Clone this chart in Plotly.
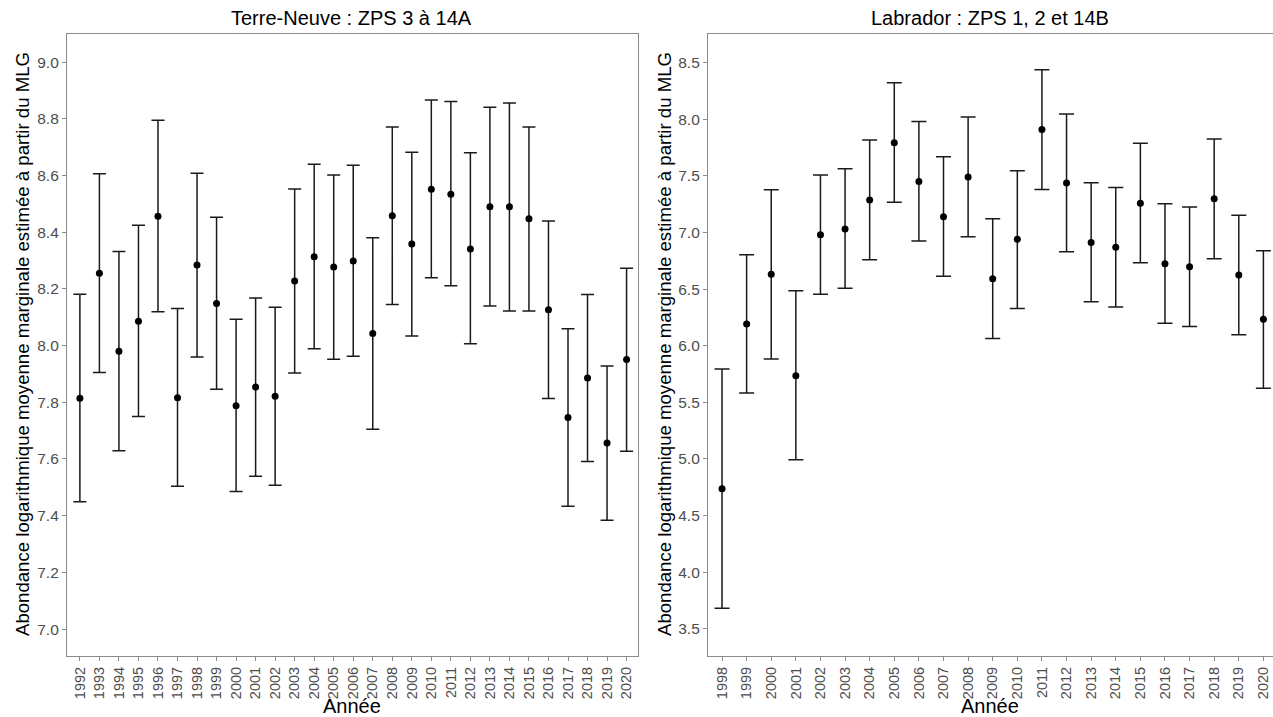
import plotly.graph_objects as go
from plotly.subplots import make_subplots

# Terre-Neuve (ZPS 3 à 14A)
tn_years = list(range(1992, 2021))
tn_mean = [7.814, 8.255, 7.980, 8.086, 8.456, 7.816, 8.284, 8.148, 7.788, 7.854,
           7.821, 8.228, 8.313, 8.277, 8.298, 8.043, 8.458, 8.358, 8.551, 8.534,
           8.341, 8.490, 8.490, 8.447, 8.126, 7.746, 7.886, 7.656, 7.951]
tn_upper = [8.181, 8.606, 8.332, 8.424, 8.795, 8.131, 8.608, 8.453, 8.093, 8.168,
            8.135, 8.552, 8.640, 8.602, 8.636, 8.380, 8.771, 8.682, 8.866, 8.861,
            8.680, 8.841, 8.856, 8.771, 8.439, 8.059, 8.180, 7.928, 8.273]
tn_lower = [7.449, 7.905, 7.629, 7.750, 8.119, 7.504, 7.960, 7.846, 7.485, 7.539,
            7.507, 7.903, 7.989, 7.952, 7.962, 7.705, 8.145, 8.034, 8.239, 8.211,
            8.006, 8.140, 8.122, 8.122, 7.813, 7.433, 7.591, 7.384, 7.627]

# Labrador (ZPS 1, 2 et 14B)
lab_years = list(range(1998, 2021))
lab_mean = [4.737, 6.192, 6.631, 5.735, 6.981, 7.031, 7.287, 7.793, 7.452, 7.140,
            7.490, 6.592, 6.940, 7.911, 7.437, 6.913, 6.869, 7.258, 6.724, 6.698,
            7.299, 6.625, 6.233]
lab_upper = [5.794, 6.804, 7.378, 6.486, 7.508, 7.564, 7.817, 8.323, 7.982, 7.670,
             8.020, 7.122, 7.546, 8.438, 8.047, 7.440, 7.399, 7.788, 7.254, 7.225,
             7.826, 7.152, 6.839]
lab_lower = [3.680, 5.582, 5.883, 4.993, 6.454, 6.507, 6.760, 7.267, 6.925, 6.613,
             6.963, 6.065, 6.330, 7.381, 6.830, 6.389, 6.342, 6.733, 6.198, 6.171,
             6.769, 6.097, 5.624]

titles = ["Terre-Neuve : ZPS 3 à 14A", "Labrador : ZPS 1, 2 et 14B"]
y_title = "Abondance logarithmique moyenne marginale estimée à partir du MLG"
x_title = "Année"

W, H = 1273, 717
FONT = "Liberation Sans, Arial, sans-serif"
NARROW = "Liberation Sans Narrow, Arial Narrow, Liberation Sans, Arial, sans-serif"
TICK_GREY = "#4d4d4d"
LINE_GREY = "#8c8c8c"

fig = make_subplots(rows=1, cols=2)


def add_panel(col, years, mean, upper, lower, cap):
    fig.add_trace(
        go.Scatter(
            x=years,
            y=mean,
            mode="markers",
            marker=dict(color="black", size=7),
            error_y=dict(
                type="data",
                symmetric=False,
                array=[u - m for u, m in zip(upper, mean)],
                arrayminus=[m - l for m, l in zip(mean, lower)],
                color="#1a1a1a",
                thickness=1.5,
                width=cap,
            ),
            showlegend=False,
        ),
        row=1,
        col=col,
    )


add_panel(1, tn_years, tn_mean, tn_upper, tn_lower, 6.5)
add_panel(2, lab_years, lab_mean, lab_upper, lab_lower, 7.5)

left_dom = [67 / W, 637.7 / W]
right_dom = [708 / W, 1.0]

common_x = dict(
    tickmode="linear",
    dtick=1,
    tickangle=-90,
    tickfont=dict(family=FONT, size=14.5, color=TICK_GREY),
    ticks="outside",
    ticklen=4,
    tickcolor=LINE_GREY,
    showgrid=False,
    zeroline=False,
    showline=True,
    linecolor=LINE_GREY,
    linewidth=1.2,
    mirror=True,
)
common_y = dict(
    tickfont=dict(family=FONT, size=15.5, color=TICK_GREY),
    ticks="outside",
    ticklen=4,
    tickcolor=LINE_GREY,
    showgrid=False,
    zeroline=False,
    showline=True,
    linecolor=LINE_GREY,
    linewidth=1.2,
)

fig.update_xaxes(common_x, row=1, col=1, domain=left_dom, range=[1991.34, 2020.57])
fig.update_xaxes(common_x, row=1, col=2, domain=right_dom, range=[1997.43, 2020.39])
fig.update_yaxes(common_y, row=1, col=1, domain=[0, 1], range=[6.905, 9.099],
                 tickvals=[7.0, 7.2, 7.4, 7.6, 7.8, 8.0, 8.2, 8.4, 8.6, 8.8, 9.0],
                 tickformat=".1f", mirror=True)
fig.update_yaxes(common_y, row=1, col=2, domain=[0, 1], range=[3.259, 8.754],
                 tickvals=[3.5, 4.0, 4.5, 5.0, 5.5, 6.0, 6.5, 7.0, 7.5, 8.0, 8.5],
                 tickformat=".1f", mirror=False)

TOP, BOTTOM = 34, 61


def page_to_paper(page_y):
    # vertical page pixel -> paper units of the plotting area
    return (H - BOTTOM - page_y) / (H - TOP - BOTTOM)


annotations = []
for title, cx, ytx in [(titles[0], 352, 22), (titles[1], 990, 664)]:
    annotations.append(dict(
        text=title, x=cx / W, y=page_to_paper(18), xref="paper", yref="paper",
        xanchor="center", yanchor="middle", showarrow=False,
        font=dict(family=FONT, size=20, color="black")))
    annotations.append(dict(
        text=x_title, x=cx / W, y=page_to_paper(706), xref="paper", yref="paper",
        xanchor="center", yanchor="middle", showarrow=False,
        font=dict(family=FONT, size=20, color="black")))
    annotations.append(dict(
        text=y_title, x=ytx / W, y=page_to_paper(344), xref="paper", yref="paper",
        xanchor="center", yanchor="middle", showarrow=False, textangle=-90,
        font=dict(family=NARROW, size=18.6, color="black")))

fig.update_layout(
    width=W,
    height=H,
    margin=dict(l=0, r=0, t=TOP, b=BOTTOM),
    plot_bgcolor="white",
    paper_bgcolor="white",
    annotations=annotations,
)

fig.write_html("out.html")
